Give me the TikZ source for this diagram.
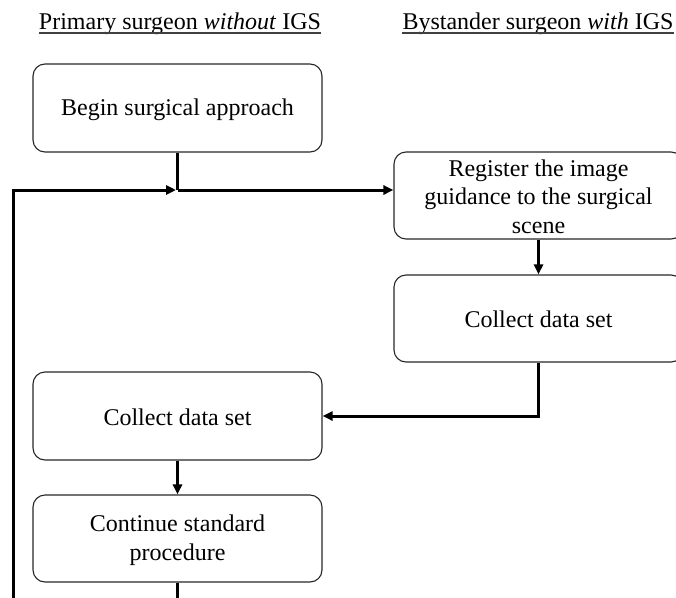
\documentclass[tikz,border=0pt]{standalone}
\usepackage{fontspec}
\setmainfont{Liberation Serif}
\usetikzlibrary{arrows.meta}
\newcommand\topstrut{\rule{0pt}{20pt}}
\newcommand\botstrut{\rule[-2pt]{0pt}{0pt}}
\begin{document}
\begin{tikzpicture}[x=1pt,y=-1pt,
  box/.style={draw=black!85, line width=1.1pt, rounded corners=12pt, minimum width=289pt, minimum height=87pt, align=center, font=\fontsize{24}{28.5}\selectfont, inner sep=0pt},
  conn/.style={line width=3pt, black},
  arr/.style={conn, -{Triangle[length=10pt,width=9pt]}},
  head/.style={font=\fontsize{24}{30}\selectfont, anchor=base, inner sep=0pt},
  uline/.style={line width=1.8pt, black!75}]
\useasboundingbox (0,0) rectangle (676,597);
\clip (0,0) rectangle (676,597);
% headers
\node[head] (h1) at (180,29.5) {Primary surgeon \textit{without} IGS};
\node[head] (h2) at (538,29.5) {Bystander surgeon \textit{with} IGS};
\draw[uline] ([yshift=-3.5pt]h1.base west) -- ([yshift=-3.5pt]h1.base east);
\draw[uline] ([yshift=-3.5pt]h2.base west) -- ([yshift=-3.5pt]h2.base east);
% boxes
\node[box, minimum height=88pt] (b1) at (177.5,108) {\topstrut Begin surgical approach\botstrut};
\node[box] (b2) at (538.5,195.5) {\topstrut Register the image\\guidance to the surgical\\scene\botstrut};
\node[box] (b3) at (538.5,318.5) {\topstrut Collect data set\botstrut};
\node[box, minimum height=88pt] (b4) at (177.5,416) {\topstrut Collect data set\botstrut};
\node[box] (b5) at (177.5,538.5) {\topstrut Continue standard\\procedure\botstrut};
% connectors
\coordinate (j) at (177.5,190);
\coordinate (lt) at (13,190);
\coordinate (lb) at (13,605);
\coordinate (e5) at (177.5,605);
\draw[conn] (b1.south) -- (j);
\draw[arr] (j) -- (j -| b2.west);
\draw[arr, shorten >=1.5pt] (lb) -- (lt) -- (j);
\draw[arr] (b2.south) -- (b3.north);
\draw[arr] (b3.south) |- (b4.east);
\draw[arr] (b4.south) -- (b5.north);
\draw[conn] (b5.south) -- (e5);
\end{tikzpicture}
\end{document}
